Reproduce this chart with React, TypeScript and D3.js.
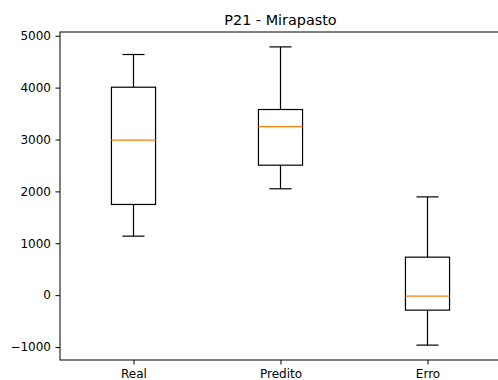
import { useEffect, useRef } from 'react'
import * as d3 from 'd3'

// box statistics
const categories = ['Real', 'Predito', 'Erro']
const whiskerHigh = [4638, 4785, 1894]
const q3Values = [4008, 3578, 732]
const medians = [2987, 3250, -19]
const q1Values = [1748, 2505, -289]
const whiskerLow = [1137, 2050, -963]
const yTicks = [-1000, 0, 1000, 2000, 3000, 4000, 5000]

export default function App() {
  const svgRef = useRef<SVGSVGElement>(null)

  useEffect(() => {
    if (!svgRef.current) return
    const svg = d3.select(svgRef.current)
    svg.selectAll('*').remove()

    const width = 498
    const height = 380
    const margin = { top: 32, right: -3, bottom: 20, left: 60 }
    const innerWidth = width - margin.left - margin.right
    const innerHeight = height - margin.top - margin.bottom

    const boxes = categories.map((name, i) => ({
      name,
      pos: i + 1,
      hi: whiskerHigh[i],
      q3: q3Values[i],
      med: medians[i],
      q1: q1Values[i],
      lo: whiskerLow[i]
    }))

    const xScale = d3.scaleLinear().domain([0.5, 3.5]).range([0, innerWidth])
    const yScale = d3.scaleLinear().domain([-1250, 5072]).range([innerHeight, 0])

    const g = svg.append('g')
      .attr('transform', `translate(${margin.left},${margin.top})`)

    const boxW = xScale(0.3) - xScale(0)
    const capW = boxW / 2

    const groups = g.selectAll('.box')
      .data(boxes)
      .enter().append('g')
      .attr('class', 'box')

    // whiskers
    groups.append('line')
      .attr('x1', d => xScale(d.pos)).attr('x2', d => xScale(d.pos))
      .attr('y1', d => yScale(d.q3)).attr('y2', d => yScale(d.hi))
      .attr('stroke', '#000').attr('stroke-width', 1.2)
    groups.append('line')
      .attr('x1', d => xScale(d.pos)).attr('x2', d => xScale(d.pos))
      .attr('y1', d => yScale(d.q1)).attr('y2', d => yScale(d.lo))
      .attr('stroke', '#000').attr('stroke-width', 1.2)

    // caps
    groups.append('line')
      .attr('x1', d => xScale(d.pos) - capW / 2).attr('x2', d => xScale(d.pos) + capW / 2)
      .attr('y1', d => yScale(d.hi)).attr('y2', d => yScale(d.hi))
      .attr('stroke', '#000').attr('stroke-width', 1.2)
    groups.append('line')
      .attr('x1', d => xScale(d.pos) - capW / 2).attr('x2', d => xScale(d.pos) + capW / 2)
      .attr('y1', d => yScale(d.lo)).attr('y2', d => yScale(d.lo))
      .attr('stroke', '#000').attr('stroke-width', 1.2)

    // boxes
    groups.append('rect')
      .attr('x', d => xScale(d.pos) - boxW / 2)
      .attr('y', d => yScale(d.q3))
      .attr('width', boxW)
      .attr('height', d => yScale(d.q1) - yScale(d.q3))
      .attr('fill', 'none')
      .attr('stroke', '#000')
      .attr('stroke-width', 1.2)

    // medians
    groups.append('line')
      .attr('x1', d => xScale(d.pos) - boxW / 2).attr('x2', d => xScale(d.pos) + boxW / 2)
      .attr('y1', d => yScale(d.med)).attr('y2', d => yScale(d.med))
      .attr('stroke', '#ff7f0e').attr('stroke-width', 1.2)

    // frame
    g.append('rect')
      .attr('width', innerWidth)
      .attr('height', innerHeight)
      .attr('fill', 'none')
      .attr('stroke', '#000')
      .attr('stroke-width', 1)

    // axes
    const xAxis = g.append('g')
      .attr('transform', `translate(0,${innerHeight})`)
      .call(d3.axisBottom(xScale).tickValues([1, 2, 3]).tickFormat((d, i) => categories[i]).tickSize(4.5).tickPadding(4.5))
    const yAxis = g.append('g')
      .call(d3.axisLeft(yScale).tickValues(yTicks).tickFormat(d => d3.format('d')(d as number).replace('-', '\u2212')).tickSize(4.5).tickPadding(4.5))

    ;[xAxis, yAxis].forEach(a => {
      a.select('.domain').remove()
      a.selectAll('line').attr('stroke', '#000').attr('stroke-width', 1)
      a.selectAll('text')
        .style('font-family', '"DejaVu Sans", sans-serif')
        .style('font-size', '12px')
        .attr('fill', '#000')
    })

    svg.append('text')
      .attr('x', margin.left + (xScale(3.5) - xScale(0.5)) / 2)
      .attr('y', 25)
      .attr('text-anchor', 'middle')
      .style('font-family', '"DejaVu Sans", sans-serif')
      .style('font-size', '14.4px')
      .text('P21 - Mirapasto')
  }, [])

  return (
    <svg ref={svgRef} width={498} height={380}
      style={{ position: 'absolute', left: 0, top: 0, background: '#fff', overflow: 'hidden' }} />
  )
}
